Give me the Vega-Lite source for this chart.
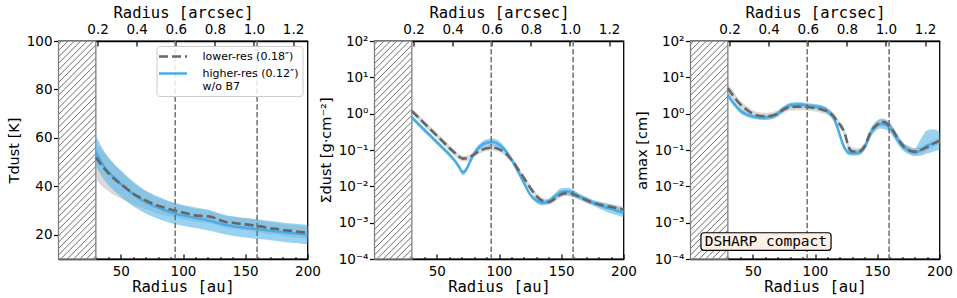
{
"$schema":"https://vega.github.io/schema/vega-lite/v6.json",
"background":"white",
"padding":{"left":5.5,"top":4,"right":0,"bottom":0},
"spacing":67,
"bounds":"flush",
"resolve":{"legend":{"color":"independent","strokeDash":"independent"}},
"datasets":{"prof":[
{"p":"T","r":30,"lv":52,"llo":43,"lhi":58,"hv":54.5,"hlo":48.5,"hhi":61},
{"p":"T","r":35,"lv":48.5,"llo":40,"lhi":55,"hv":49.5,"hlo":44,"hhi":56},
{"p":"T","r":40,"lv":45.5,"llo":38,"lhi":52,"hv":46,"hlo":40.5,"hhi":52},
{"p":"T","r":45,"lv":43,"llo":36.3,"lhi":49,"hv":43.5,"hlo":38,"hhi":49},
{"p":"T","r":50,"lv":41,"llo":35,"lhi":46.5,"hv":41,"hlo":35.7,"hhi":46.5},
{"p":"T","r":55,"lv":39,"llo":33.8,"lhi":44,"hv":38.8,"hlo":33.6,"hhi":44.2},
{"p":"T","r":60,"lv":37,"llo":32.6,"lhi":41.5,"hv":36.8,"hlo":31.8,"hhi":42},
{"p":"T","r":65,"lv":35.5,"llo":31.5,"lhi":39.5,"hv":35,"hlo":30.2,"hhi":40},
{"p":"T","r":70,"lv":34.2,"llo":30.5,"lhi":38,"hv":33.5,"hlo":28.8,"hhi":38.3},
{"p":"T","r":75,"lv":33,"llo":29.6,"lhi":36.5,"hv":32.3,"hlo":27.7,"hhi":36.9},
{"p":"T","r":80,"lv":32,"llo":28.8,"lhi":35.2,"hv":31.2,"hlo":26.6,"hhi":35.8},
{"p":"T","r":85,"lv":31.2,"llo":28.1,"lhi":34.3,"hv":30.2,"hlo":25.7,"hhi":34.7},
{"p":"T","r":90,"lv":30.4,"llo":27.5,"lhi":33.3,"hv":29.3,"hlo":24.9,"hhi":33.7},
{"p":"T","r":95,"lv":29.8,"llo":27,"lhi":32.6,"hv":28.6,"hlo":24.2,"hhi":33},
{"p":"T","r":100,"lv":29.2,"llo":26.4,"lhi":32,"hv":28,"hlo":23.7,"hhi":32.3},
{"p":"T","r":105,"lv":28.6,"llo":25.9,"lhi":31.3,"hv":27.5,"hlo":23.2,"hhi":31.8},
{"p":"T","r":110,"lv":28,"llo":25.3,"lhi":30.7,"hv":27,"hlo":22.8,"hhi":31.3},
{"p":"T","r":115,"lv":27.8,"llo":25.1,"lhi":30.5,"hv":26.5,"hlo":22.3,"hhi":30.8},
{"p":"T","r":120,"lv":27.6,"llo":24.9,"lhi":30.3,"hv":26,"hlo":21.9,"hhi":30.2},
{"p":"T","r":125,"lv":27,"llo":24.4,"lhi":29.6,"hv":25.3,"hlo":21.2,"hhi":29.5},
{"p":"T","r":130,"lv":26,"llo":23.5,"lhi":28.5,"hv":24.6,"hlo":20.6,"hhi":28.7},
{"p":"T","r":135,"lv":25.2,"llo":22.7,"lhi":27.7,"hv":24,"hlo":20,"hhi":28.1},
{"p":"T","r":140,"lv":25,"llo":22.5,"lhi":27.5,"hv":23.6,"hlo":19.6,"hhi":27.6},
{"p":"T","r":145,"lv":24.6,"llo":22.1,"lhi":27.1,"hv":23.2,"hlo":19.2,"hhi":27.2},
{"p":"T","r":150,"lv":24.3,"llo":21.8,"lhi":26.8,"hv":22.9,"hlo":18.9,"hhi":26.9},
{"p":"T","r":155,"lv":24,"llo":21.5,"lhi":26.5,"hv":22.6,"hlo":18.6,"hhi":26.6},
{"p":"T","r":160,"lv":23.6,"llo":21.1,"lhi":26.1,"hv":22.3,"hlo":18.3,"hhi":26.3},
{"p":"T","r":165,"lv":23.2,"llo":20.7,"lhi":25.7,"hv":22,"hlo":18,"hhi":26},
{"p":"T","r":170,"lv":22.6,"llo":20.1,"lhi":25.1,"hv":21.7,"hlo":17.7,"hhi":25.7},
{"p":"T","r":175,"lv":22.5,"llo":20,"lhi":25,"hv":21.4,"hlo":17.4,"hhi":25.4},
{"p":"T","r":180,"lv":22,"llo":19.5,"lhi":24.5,"hv":21.1,"hlo":17.1,"hhi":25.1},
{"p":"T","r":185,"lv":21.7,"llo":19.2,"lhi":24.2,"hv":20.8,"hlo":16.8,"hhi":24.8},
{"p":"T","r":190,"lv":21.4,"llo":18.9,"lhi":23.9,"hv":20.6,"hlo":16.6,"hhi":24.6},
{"p":"T","r":195,"lv":21.1,"llo":18.6,"lhi":23.6,"hv":20.3,"hlo":16.3,"hhi":24.3},
{"p":"T","r":200,"lv":20.8,"llo":18.3,"lhi":23.3,"hv":20,"hlo":16,"hhi":24},
{"p":"S","r":30,"lv":1.18,"llo":0.98,"lhi":1.42,"hv":0.78,"hlo":0.68,"hhi":0.9},
{"p":"S","r":35,"lv":0.8,"llo":0.67,"lhi":0.96,"hv":0.53,"hlo":0.46,"hhi":0.61},
{"p":"S","r":40,"lv":0.54,"llo":0.45,"lhi":0.65,"hv":0.36,"hlo":0.31,"hhi":0.41},
{"p":"S","r":45,"lv":0.37,"llo":0.31,"lhi":0.44,"hv":0.245,"hlo":0.213,"hhi":0.28},
{"p":"S","r":50,"lv":0.25,"llo":0.21,"lhi":0.3,"hv":0.165,"hlo":0.143,"hhi":0.19},
{"p":"S","r":55,"lv":0.17,"llo":0.142,"lhi":0.204,"hv":0.112,"hlo":0.097,"hhi":0.129},
{"p":"S","r":60,"lv":0.115,"llo":0.096,"lhi":0.138,"hv":0.076,"hlo":0.066,"hhi":0.087},
{"p":"S","r":65,"lv":0.08,"llo":0.067,"lhi":0.096,"hv":0.048,"hlo":0.042,"hhi":0.055},
{"p":"S","r":68,"lv":0.065,"llo":0.054,"lhi":0.078,"hv":0.034,"hlo":0.029,"hhi":0.039},
{"p":"S","r":71,"lv":0.058,"llo":0.048,"lhi":0.07,"hv":0.024,"hlo":0.02,"hhi":0.028},
{"p":"S","r":74,"lv":0.059,"llo":0.049,"lhi":0.071,"hv":0.03,"hlo":0.026,"hhi":0.035},
{"p":"S","r":77,"lv":0.065,"llo":0.054,"lhi":0.078,"hv":0.05,"hlo":0.043,"hhi":0.058},
{"p":"S","r":80,"lv":0.076,"llo":0.063,"lhi":0.091,"hv":0.08,"hlo":0.068,"hhi":0.094},
{"p":"S","r":85,"lv":0.097,"llo":0.081,"lhi":0.116,"hv":0.128,"hlo":0.105,"hhi":0.155},
{"p":"S","r":90,"lv":0.112,"llo":0.093,"lhi":0.134,"hv":0.158,"hlo":0.127,"hhi":0.197},
{"p":"S","r":95,"lv":0.116,"llo":0.097,"lhi":0.139,"hv":0.166,"hlo":0.133,"hhi":0.207},
{"p":"S","r":100,"lv":0.106,"llo":0.088,"lhi":0.127,"hv":0.142,"hlo":0.114,"hhi":0.177},
{"p":"S","r":105,"lv":0.082,"llo":0.068,"lhi":0.098,"hv":0.098,"hlo":0.082,"hhi":0.117},
{"p":"S","r":110,"lv":0.054,"llo":0.045,"lhi":0.065,"hv":0.055,"hlo":0.047,"hhi":0.063},
{"p":"S","r":115,"lv":0.031,"llo":0.026,"lhi":0.037,"hv":0.027,"hlo":0.023,"hhi":0.031},
{"p":"S","r":120,"lv":0.017,"llo":0.0142,"lhi":0.0204,"hv":0.0125,"hlo":0.0108,"hhi":0.0144},
{"p":"S","r":125,"lv":0.0092,"llo":0.0077,"lhi":0.011,"hv":0.006,"hlo":0.0052,"hhi":0.0069},
{"p":"S","r":130,"lv":0.0055,"llo":0.0046,"lhi":0.0066,"hv":0.0041,"hlo":0.0035,"hhi":0.0048},
{"p":"S","r":135,"lv":0.004,"llo":0.0033,"lhi":0.0048,"hv":0.0035,"hlo":0.003,"hhi":0.0041},
{"p":"S","r":140,"lv":0.0037,"llo":0.0031,"lhi":0.0044,"hv":0.0039,"hlo":0.0033,"hhi":0.0046},
{"p":"S","r":145,"lv":0.0046,"llo":0.0038,"lhi":0.0055,"hv":0.0053,"hlo":0.0043,"hhi":0.0066},
{"p":"S","r":150,"lv":0.006,"llo":0.005,"lhi":0.0072,"hv":0.007,"hlo":0.0056,"hhi":0.0088},
{"p":"S","r":155,"lv":0.0066,"llo":0.0055,"lhi":0.0079,"hv":0.0073,"hlo":0.0058,"hhi":0.0091},
{"p":"S","r":160,"lv":0.006,"llo":0.005,"lhi":0.0072,"hv":0.0063,"hlo":0.005,"hhi":0.0079},
{"p":"S","r":165,"lv":0.005,"llo":0.0042,"lhi":0.006,"hv":0.0052,"hlo":0.0043,"hhi":0.0062},
{"p":"S","r":170,"lv":0.0042,"llo":0.0035,"lhi":0.005,"hv":0.0043,"hlo":0.0036,"hhi":0.0052},
{"p":"S","r":175,"lv":0.0036,"llo":0.003,"lhi":0.0043,"hv":0.0036,"hlo":0.003,"hhi":0.0043},
{"p":"S","r":180,"lv":0.0032,"llo":0.0027,"lhi":0.0038,"hv":0.0031,"hlo":0.0025,"hhi":0.0038},
{"p":"S","r":185,"lv":0.0029,"llo":0.0024,"lhi":0.0035,"hv":0.0027,"hlo":0.0021,"hhi":0.0035},
{"p":"S","r":190,"lv":0.0027,"llo":0.0022,"lhi":0.0032,"hv":0.0024,"hlo":0.0018,"hhi":0.0032},
{"p":"S","r":195,"lv":0.0025,"llo":0.0021,"lhi":0.003,"hv":0.0021,"hlo":0.0016,"hhi":0.0028},
{"p":"S","r":200,"lv":0.0023,"llo":0.0019,"lhi":0.0028,"hv":0.0019,"hlo":0.0014,"hhi":0.0025},
{"p":"A","r":30,"lv":5.0,"llo":3.6,"lhi":7,"hv":3.3,"hlo":2.7,"hhi":4.0},
{"p":"A","r":33,"lv":3.6,"llo":2.7,"lhi":4.8,"hv":2.3,"hlo":1.95,"hhi":2.7},
{"p":"A","r":36,"lv":2.6,"llo":2.0,"lhi":3.4,"hv":1.7,"hlo":1.45,"hhi":2.0},
{"p":"A","r":40,"lv":1.8,"llo":1.4,"lhi":2.3,"hv":1.2,"hlo":1.03,"hhi":1.4},
{"p":"A","r":45,"lv":1.3,"llo":1.04,"lhi":1.62,"hv":0.95,"hlo":0.82,"hhi":1.1},
{"p":"A","r":50,"lv":1.0,"llo":0.8,"lhi":1.25,"hv":0.83,"hlo":0.72,"hhi":0.96},
{"p":"A","r":55,"lv":0.88,"llo":0.7,"lhi":1.1,"hv":0.79,"hlo":0.68,"hhi":0.91},
{"p":"A","r":60,"lv":0.85,"llo":0.68,"lhi":1.06,"hv":0.78,"hlo":0.67,"hhi":0.9},
{"p":"A","r":65,"lv":0.88,"llo":0.7,"lhi":1.1,"hv":0.82,"hlo":0.7,"hhi":0.95},
{"p":"A","r":70,"lv":1.0,"llo":0.8,"lhi":1.25,"hv":1.0,"hlo":0.85,"hhi":1.17},
{"p":"A","r":75,"lv":1.3,"llo":1.04,"lhi":1.62,"hv":1.4,"hlo":1.2,"hhi":1.63},
{"p":"A","r":80,"lv":1.5,"llo":1.2,"lhi":1.88,"hv":1.7,"hlo":1.45,"hhi":2.0},
{"p":"A","r":85,"lv":1.55,"llo":1.24,"lhi":1.94,"hv":1.78,"hlo":1.5,"hhi":2.1},
{"p":"A","r":90,"lv":1.55,"llo":1.24,"lhi":1.94,"hv":1.75,"hlo":1.48,"hhi":2.06},
{"p":"A","r":95,"lv":1.5,"llo":1.2,"lhi":1.88,"hv":1.65,"hlo":1.4,"hhi":1.95},
{"p":"A","r":100,"lv":1.42,"llo":1.14,"lhi":1.78,"hv":1.58,"hlo":1.35,"hhi":1.85},
{"p":"A","r":105,"lv":1.3,"llo":1.04,"lhi":1.62,"hv":1.48,"hlo":1.26,"hhi":1.74},
{"p":"A","r":110,"lv":1.15,"llo":0.92,"lhi":1.44,"hv":1.2,"hlo":1.0,"hhi":1.42},
{"p":"A","r":115,"lv":0.85,"llo":0.68,"lhi":1.06,"hv":0.75,"hlo":0.63,"hhi":0.9},
{"p":"A","r":118,"lv":0.6,"llo":0.48,"lhi":0.75,"hv":0.42,"hlo":0.35,"hhi":0.5},
{"p":"A","r":121,"lv":0.45,"llo":0.36,"lhi":0.56,"hv":0.2,"hlo":0.17,"hhi":0.24},
{"p":"A","r":124,"lv":0.28,"llo":0.22,"lhi":0.35,"hv":0.11,"hlo":0.092,"hhi":0.13},
{"p":"A","r":127,"lv":0.12,"llo":0.096,"lhi":0.15,"hv":0.085,"hlo":0.072,"hhi":0.1},
{"p":"A","r":130,"lv":0.092,"llo":0.074,"lhi":0.115,"hv":0.082,"hlo":0.07,"hhi":0.097},
{"p":"A","r":135,"lv":0.09,"llo":0.072,"lhi":0.113,"hv":0.085,"hlo":0.072,"hhi":0.1},
{"p":"A","r":140,"lv":0.13,"llo":0.104,"lhi":0.163,"hv":0.12,"hlo":0.1,"hhi":0.15},
{"p":"A","r":145,"lv":0.33,"llo":0.26,"lhi":0.41,"hv":0.3,"hlo":0.23,"hhi":0.4},
{"p":"A","r":150,"lv":0.5,"llo":0.4,"lhi":0.63,"hv":0.48,"hlo":0.36,"hhi":0.65},
{"p":"A","r":153,"lv":0.6,"llo":0.48,"lhi":0.75,"hv":0.52,"hlo":0.39,"hhi":0.7},
{"p":"A","r":156,"lv":0.58,"llo":0.46,"lhi":0.73,"hv":0.5,"hlo":0.37,"hhi":0.68},
{"p":"A","r":160,"lv":0.45,"llo":0.36,"lhi":0.56,"hv":0.42,"hlo":0.31,"hhi":0.57},
{"p":"A","r":163,"lv":0.33,"llo":0.26,"lhi":0.41,"hv":0.3,"hlo":0.22,"hhi":0.4},
{"p":"A","r":166,"lv":0.22,"llo":0.18,"lhi":0.28,"hv":0.2,"hlo":0.15,"hhi":0.27},
{"p":"A","r":170,"lv":0.14,"llo":0.112,"lhi":0.175,"hv":0.13,"hlo":0.1,"hhi":0.17},
{"p":"A","r":175,"lv":0.1,"llo":0.08,"lhi":0.125,"hv":0.1,"hlo":0.078,"hhi":0.13},
{"p":"A","r":180,"lv":0.09,"llo":0.072,"lhi":0.113,"hv":0.085,"hlo":0.068,"hhi":0.11},
{"p":"A","r":185,"lv":0.1,"llo":0.08,"lhi":0.125,"hv":0.1,"hlo":0.07,"hhi":0.2},
{"p":"A","r":190,"lv":0.12,"llo":0.096,"lhi":0.15,"hv":0.13,"hlo":0.08,"hhi":0.35},
{"p":"A","r":195,"lv":0.15,"llo":0.12,"lhi":0.19,"hv":0.15,"hlo":0.09,"hhi":0.37},
{"p":"A","r":200,"lv":0.18,"llo":0.144,"lhi":0.225,"hv":0.17,"hlo":0.1,"hhi":0.32}
]},
"hconcat":[
{
"width":249,"height":218,
"layer":[
{"data":{"values":[{"a":0,"b":30}]},
 "mark":{"type":"rect","stroke":"#808080","strokeWidth":1.3,"fill":{"gradient":"linear","x1":0,"y1":0,"x2":0.1953,"y2":1.138,"stops":[
{"offset":0.0085,"color":"#ffffff"},{"offset":0.0125,"color":"#6e6e6e"},{"offset":0.0165,"color":"#ffffff"},
{"offset":0.0335,"color":"#ffffff"},{"offset":0.0375,"color":"#6e6e6e"},{"offset":0.0415,"color":"#ffffff"},
{"offset":0.0585,"color":"#ffffff"},{"offset":0.0625,"color":"#6e6e6e"},{"offset":0.0665,"color":"#ffffff"},
{"offset":0.0835,"color":"#ffffff"},{"offset":0.0875,"color":"#6e6e6e"},{"offset":0.0915,"color":"#ffffff"},
{"offset":0.1085,"color":"#ffffff"},{"offset":0.1125,"color":"#6e6e6e"},{"offset":0.1165,"color":"#ffffff"},
{"offset":0.1335,"color":"#ffffff"},{"offset":0.1375,"color":"#6e6e6e"},{"offset":0.1415,"color":"#ffffff"},
{"offset":0.1585,"color":"#ffffff"},{"offset":0.1625,"color":"#6e6e6e"},{"offset":0.1665,"color":"#ffffff"},
{"offset":0.1835,"color":"#ffffff"},{"offset":0.1875,"color":"#6e6e6e"},{"offset":0.1915,"color":"#ffffff"},
{"offset":0.2085,"color":"#ffffff"},{"offset":0.2125,"color":"#6e6e6e"},{"offset":0.2165,"color":"#ffffff"},
{"offset":0.2335,"color":"#ffffff"},{"offset":0.2375,"color":"#6e6e6e"},{"offset":0.2415,"color":"#ffffff"},
{"offset":0.2585,"color":"#ffffff"},{"offset":0.2625,"color":"#6e6e6e"},{"offset":0.2665,"color":"#ffffff"},
{"offset":0.2835,"color":"#ffffff"},{"offset":0.2875,"color":"#6e6e6e"},{"offset":0.2915,"color":"#ffffff"},
{"offset":0.3085,"color":"#ffffff"},{"offset":0.3125,"color":"#6e6e6e"},{"offset":0.3165,"color":"#ffffff"},
{"offset":0.3335,"color":"#ffffff"},{"offset":0.3375,"color":"#6e6e6e"},{"offset":0.3415,"color":"#ffffff"},
{"offset":0.3585,"color":"#ffffff"},{"offset":0.3625,"color":"#6e6e6e"},{"offset":0.3665,"color":"#ffffff"},
{"offset":0.3835,"color":"#ffffff"},{"offset":0.3875,"color":"#6e6e6e"},{"offset":0.3915,"color":"#ffffff"},
{"offset":0.4085,"color":"#ffffff"},{"offset":0.4125,"color":"#6e6e6e"},{"offset":0.4165,"color":"#ffffff"},
{"offset":0.4335,"color":"#ffffff"},{"offset":0.4375,"color":"#6e6e6e"},{"offset":0.4415,"color":"#ffffff"},
{"offset":0.4585,"color":"#ffffff"},{"offset":0.4625,"color":"#6e6e6e"},{"offset":0.4665,"color":"#ffffff"},
{"offset":0.4835,"color":"#ffffff"},{"offset":0.4875,"color":"#6e6e6e"},{"offset":0.4915,"color":"#ffffff"},
{"offset":0.5085,"color":"#ffffff"},{"offset":0.5125,"color":"#6e6e6e"},{"offset":0.5165,"color":"#ffffff"},
{"offset":0.5335,"color":"#ffffff"},{"offset":0.5375,"color":"#6e6e6e"},{"offset":0.5415,"color":"#ffffff"},
{"offset":0.5585,"color":"#ffffff"},{"offset":0.5625,"color":"#6e6e6e"},{"offset":0.5665,"color":"#ffffff"},
{"offset":0.5835,"color":"#ffffff"},{"offset":0.5875,"color":"#6e6e6e"},{"offset":0.5915,"color":"#ffffff"},
{"offset":0.6085,"color":"#ffffff"},{"offset":0.6125,"color":"#6e6e6e"},{"offset":0.6165,"color":"#ffffff"},
{"offset":0.6335,"color":"#ffffff"},{"offset":0.6375,"color":"#6e6e6e"},{"offset":0.6415,"color":"#ffffff"},
{"offset":0.6585,"color":"#ffffff"},{"offset":0.6625,"color":"#6e6e6e"},{"offset":0.6665,"color":"#ffffff"},
{"offset":0.6835,"color":"#ffffff"},{"offset":0.6875,"color":"#6e6e6e"},{"offset":0.6915,"color":"#ffffff"},
{"offset":0.7085,"color":"#ffffff"},{"offset":0.7125,"color":"#6e6e6e"},{"offset":0.7165,"color":"#ffffff"},
{"offset":0.7335,"color":"#ffffff"},{"offset":0.7375,"color":"#6e6e6e"},{"offset":0.7415,"color":"#ffffff"},
{"offset":0.7585,"color":"#ffffff"},{"offset":0.7625,"color":"#6e6e6e"},{"offset":0.7665,"color":"#ffffff"},
{"offset":0.7835,"color":"#ffffff"},{"offset":0.7875,"color":"#6e6e6e"},{"offset":0.7915,"color":"#ffffff"},
{"offset":0.8085,"color":"#ffffff"},{"offset":0.8125,"color":"#6e6e6e"},{"offset":0.8165,"color":"#ffffff"},
{"offset":0.8335,"color":"#ffffff"},{"offset":0.8375,"color":"#6e6e6e"},{"offset":0.8415,"color":"#ffffff"},
{"offset":0.8585,"color":"#ffffff"},{"offset":0.8625,"color":"#6e6e6e"},{"offset":0.8665,"color":"#ffffff"},
{"offset":0.8835,"color":"#ffffff"},{"offset":0.8875,"color":"#6e6e6e"},{"offset":0.8915,"color":"#ffffff"},
{"offset":0.9085,"color":"#ffffff"},{"offset":0.9125,"color":"#6e6e6e"},{"offset":0.9165,"color":"#ffffff"},
{"offset":0.9335,"color":"#ffffff"},{"offset":0.9375,"color":"#6e6e6e"},{"offset":0.9415,"color":"#ffffff"},
{"offset":0.9585,"color":"#ffffff"},{"offset":0.9625,"color":"#6e6e6e"},{"offset":0.9665,"color":"#ffffff"},
{"offset":0.9835,"color":"#ffffff"},{"offset":0.9875,"color":"#6e6e6e"},{"offset":0.9915,"color":"#ffffff"}]}},
 "encoding":{
  "x":{"field":"a","type":"quantitative","scale":{"domain":[0,200],"nice":false,"zero":false},"axis":{"orient":"bottom","values":[10,20,30,40,60,70,80,90,110,120,130,140,160,170,180,190],"labels":false,"tickSize":-2.5,"tickWidth":1,"domain":false,"title":null}},
  "x2":{"field":"b"},
  "y":{"datum":10,"type":"quantitative","scale":{"domain":[10,100],"nice":false,"zero":false},"axis":{"orient":"left","values":[10,15,25,30,35,45,50,55,65,70,75,85,90,95],"labels":false,"tickSize":-2.5,"tickWidth":1,"domain":false,"title":null}},
  "y2":{"datum":100}}},
{"data":{"name":"prof"},
 "transform":[{"filter":"datum.p == 'T'"}],
 "encoding":{"x":{"field":"r","type":"quantitative","scale":{"domain":[0,200],"nice":false,"zero":false},"axis":{"orient":"bottom","values":[50,100,150,200],"tickSize":-5,"tickWidth":1.2,"labelPadding":10,"labelFlush":false,"title":"Radius [au]","titleFont":"DejaVu Sans Mono","titleFontSize":15.5,"titlePadding":2,"domain":true,"domainWidth":1.3}}},
 "layer":[
  {"mark":{"type":"area","color":"#aaaaaa","opacity":0.45,"interpolate":"monotone"},
   "encoding":{"y":{"field":"llo","type":"quantitative","scale":{"domain":[10,100],"nice":false,"zero":false},"axis":{"orient":"left","values":[20,40,60,80,100],"tickSize":5,"tickWidth":1.2,"labelPadding":1.5,"title":"Tdust [K]","titleFontSize":14.5,"titlePadding":5,"domain":true,"domainWidth":1.3}},"y2":{"field":"lhi"}}},
  {"mark":{"type":"area","color":"#56B4E9","opacity":0.6,"interpolate":"monotone"},
   "encoding":{"y":{"field":"hlo","type":"quantitative"},"y2":{"field":"hhi"}}},
  {"mark":{"type":"line","strokeWidth":2.5,"interpolate":"monotone"},
   "encoding":{"y":{"field":"hv","type":"quantitative"},
    "color":{"datum":"higher-res (0.12″) w/o B7","type":"nominal","scale":{"domain":["lower-res (0.18″)","higher-res (0.12″) w/o B7"],"range":["#666666","#49ACE6"]},
      "legend":{"title":null,"orient":"top-right","offset":5,"symbolType":"M-2.8,0H2.8","symbolSize":100,"symbolOffset":6,"symbolStrokeWidth":2.6,"labelFont":"DejaVu Sans","labelFontSize":11,"labelColor":"black","labelOffset":23,"labelLimit":300,"labelExpr":"datum.label == 'lower-res (0.18″)' ? datum.label : ['higher-res (0.12″)', 'w/o B7']","fillColor":"rgba(255,255,255,0.85)","strokeColor":"#cccccc","cornerRadius":3,"padding":4,"rowPadding":5}},
    "strokeDash":{"datum":"higher-res (0.12″) w/o B7","type":"nominal","scale":{"domain":["lower-res (0.18″)","higher-res (0.12″) w/o B7"],"range":[[9,4],[1,0]]},
      "legend":{"title":null,"orient":"top-right","offset":5,"symbolType":"M-2.8,0H2.8","symbolSize":100,"symbolOffset":6,"symbolStrokeWidth":2.6,"labelFont":"DejaVu Sans","labelFontSize":11,"labelColor":"black","labelOffset":23,"labelLimit":300,"labelExpr":"datum.label == 'lower-res (0.18″)' ? datum.label : ['higher-res (0.12″)', 'w/o B7']","fillColor":"rgba(255,255,255,0.85)","strokeColor":"#cccccc","cornerRadius":3,"padding":4,"rowPadding":5}}}},
  {"mark":{"type":"line","strokeWidth":2.6,"interpolate":"monotone"},
   "encoding":{"y":{"field":"lv","type":"quantitative"},"color":{"datum":"lower-res (0.18″)","type":"nominal"},"strokeDash":{"datum":"lower-res (0.18″)","type":"nominal"}}}
 ]},
{"data":{"values":[{"as":0.597},{"as":1.016}]},
 "mark":{"type":"rule","color":"#707070","strokeWidth":1.5,"strokeDash":[5.5,2.4]},
 "encoding":{"x":{"field":"as","type":"quantitative","scale":{"domain":[0,1.2739],"nice":false,"zero":false},"axis":{"orient":"top","values":[0.2,0.4,0.6,0.8,1.0,1.2],"format":".1f","tickSize":-5,"tickWidth":1.2,"labelPadding":10,"labelFlush":false,"title":"Radius [arcsec]","titleFont":"DejaVu Sans Mono","titleFontSize":15.5,"titlePadding":2,"domain":true,"domainWidth":1.3}}}}
],
"resolve":{"scale":{"x":"independent","y":"independent"}}
},
{
"width":249,"height":218,
"layer":[
{"data":{"values":[{"a":0,"b":30}]},
 "mark":{"type":"rect","stroke":"#808080","strokeWidth":1.3,"fill":{"gradient":"linear","x1":0,"y1":0,"x2":0.1953,"y2":1.138,"stops":[
{"offset":0.0085,"color":"#ffffff"},{"offset":0.0125,"color":"#6e6e6e"},{"offset":0.0165,"color":"#ffffff"},
{"offset":0.0335,"color":"#ffffff"},{"offset":0.0375,"color":"#6e6e6e"},{"offset":0.0415,"color":"#ffffff"},
{"offset":0.0585,"color":"#ffffff"},{"offset":0.0625,"color":"#6e6e6e"},{"offset":0.0665,"color":"#ffffff"},
{"offset":0.0835,"color":"#ffffff"},{"offset":0.0875,"color":"#6e6e6e"},{"offset":0.0915,"color":"#ffffff"},
{"offset":0.1085,"color":"#ffffff"},{"offset":0.1125,"color":"#6e6e6e"},{"offset":0.1165,"color":"#ffffff"},
{"offset":0.1335,"color":"#ffffff"},{"offset":0.1375,"color":"#6e6e6e"},{"offset":0.1415,"color":"#ffffff"},
{"offset":0.1585,"color":"#ffffff"},{"offset":0.1625,"color":"#6e6e6e"},{"offset":0.1665,"color":"#ffffff"},
{"offset":0.1835,"color":"#ffffff"},{"offset":0.1875,"color":"#6e6e6e"},{"offset":0.1915,"color":"#ffffff"},
{"offset":0.2085,"color":"#ffffff"},{"offset":0.2125,"color":"#6e6e6e"},{"offset":0.2165,"color":"#ffffff"},
{"offset":0.2335,"color":"#ffffff"},{"offset":0.2375,"color":"#6e6e6e"},{"offset":0.2415,"color":"#ffffff"},
{"offset":0.2585,"color":"#ffffff"},{"offset":0.2625,"color":"#6e6e6e"},{"offset":0.2665,"color":"#ffffff"},
{"offset":0.2835,"color":"#ffffff"},{"offset":0.2875,"color":"#6e6e6e"},{"offset":0.2915,"color":"#ffffff"},
{"offset":0.3085,"color":"#ffffff"},{"offset":0.3125,"color":"#6e6e6e"},{"offset":0.3165,"color":"#ffffff"},
{"offset":0.3335,"color":"#ffffff"},{"offset":0.3375,"color":"#6e6e6e"},{"offset":0.3415,"color":"#ffffff"},
{"offset":0.3585,"color":"#ffffff"},{"offset":0.3625,"color":"#6e6e6e"},{"offset":0.3665,"color":"#ffffff"},
{"offset":0.3835,"color":"#ffffff"},{"offset":0.3875,"color":"#6e6e6e"},{"offset":0.3915,"color":"#ffffff"},
{"offset":0.4085,"color":"#ffffff"},{"offset":0.4125,"color":"#6e6e6e"},{"offset":0.4165,"color":"#ffffff"},
{"offset":0.4335,"color":"#ffffff"},{"offset":0.4375,"color":"#6e6e6e"},{"offset":0.4415,"color":"#ffffff"},
{"offset":0.4585,"color":"#ffffff"},{"offset":0.4625,"color":"#6e6e6e"},{"offset":0.4665,"color":"#ffffff"},
{"offset":0.4835,"color":"#ffffff"},{"offset":0.4875,"color":"#6e6e6e"},{"offset":0.4915,"color":"#ffffff"},
{"offset":0.5085,"color":"#ffffff"},{"offset":0.5125,"color":"#6e6e6e"},{"offset":0.5165,"color":"#ffffff"},
{"offset":0.5335,"color":"#ffffff"},{"offset":0.5375,"color":"#6e6e6e"},{"offset":0.5415,"color":"#ffffff"},
{"offset":0.5585,"color":"#ffffff"},{"offset":0.5625,"color":"#6e6e6e"},{"offset":0.5665,"color":"#ffffff"},
{"offset":0.5835,"color":"#ffffff"},{"offset":0.5875,"color":"#6e6e6e"},{"offset":0.5915,"color":"#ffffff"},
{"offset":0.6085,"color":"#ffffff"},{"offset":0.6125,"color":"#6e6e6e"},{"offset":0.6165,"color":"#ffffff"},
{"offset":0.6335,"color":"#ffffff"},{"offset":0.6375,"color":"#6e6e6e"},{"offset":0.6415,"color":"#ffffff"},
{"offset":0.6585,"color":"#ffffff"},{"offset":0.6625,"color":"#6e6e6e"},{"offset":0.6665,"color":"#ffffff"},
{"offset":0.6835,"color":"#ffffff"},{"offset":0.6875,"color":"#6e6e6e"},{"offset":0.6915,"color":"#ffffff"},
{"offset":0.7085,"color":"#ffffff"},{"offset":0.7125,"color":"#6e6e6e"},{"offset":0.7165,"color":"#ffffff"},
{"offset":0.7335,"color":"#ffffff"},{"offset":0.7375,"color":"#6e6e6e"},{"offset":0.7415,"color":"#ffffff"},
{"offset":0.7585,"color":"#ffffff"},{"offset":0.7625,"color":"#6e6e6e"},{"offset":0.7665,"color":"#ffffff"},
{"offset":0.7835,"color":"#ffffff"},{"offset":0.7875,"color":"#6e6e6e"},{"offset":0.7915,"color":"#ffffff"},
{"offset":0.8085,"color":"#ffffff"},{"offset":0.8125,"color":"#6e6e6e"},{"offset":0.8165,"color":"#ffffff"},
{"offset":0.8335,"color":"#ffffff"},{"offset":0.8375,"color":"#6e6e6e"},{"offset":0.8415,"color":"#ffffff"},
{"offset":0.8585,"color":"#ffffff"},{"offset":0.8625,"color":"#6e6e6e"},{"offset":0.8665,"color":"#ffffff"},
{"offset":0.8835,"color":"#ffffff"},{"offset":0.8875,"color":"#6e6e6e"},{"offset":0.8915,"color":"#ffffff"},
{"offset":0.9085,"color":"#ffffff"},{"offset":0.9125,"color":"#6e6e6e"},{"offset":0.9165,"color":"#ffffff"},
{"offset":0.9335,"color":"#ffffff"},{"offset":0.9375,"color":"#6e6e6e"},{"offset":0.9415,"color":"#ffffff"},
{"offset":0.9585,"color":"#ffffff"},{"offset":0.9625,"color":"#6e6e6e"},{"offset":0.9665,"color":"#ffffff"},
{"offset":0.9835,"color":"#ffffff"},{"offset":0.9875,"color":"#6e6e6e"},{"offset":0.9915,"color":"#ffffff"}]}},
 "encoding":{
  "x":{"field":"a","type":"quantitative","scale":{"domain":[0,200],"nice":false,"zero":false},"axis":{"orient":"bottom","values":[10,20,30,40,60,70,80,90,110,120,130,140,160,170,180,190],"labels":false,"tickSize":-2.5,"tickWidth":1,"domain":false,"title":null}},
  "x2":{"field":"b"},
  "y":{"datum":0.0001,"type":"quantitative","scale":{"type":"log","domain":[0.0001,100],"nice":false},"axis":{"orient":"left","values":[0.0002,0.0003,0.0004,0.0005,0.0006,0.0007,0.0008,0.0009,0.002,0.003,0.004,0.005,0.006,0.007,0.008,0.009,0.02,0.03,0.04,0.05,0.06,0.07,0.08,0.09,0.2,0.3,0.4,0.5,0.6,0.7,0.8,0.9,2,3,4,5,6,7,8,9,20,30,40,50,60,70,80,90],"labels":false,"tickSize":-2.5,"tickWidth":1,"domain":false,"title":null}},
  "y2":{"datum":100}}},
{"data":{"name":"prof"},
 "transform":[{"filter":"datum.p == 'S'"}],
 "encoding":{"x":{"field":"r","type":"quantitative","scale":{"domain":[0,200],"nice":false,"zero":false},"axis":{"orient":"bottom","values":[50,100,150,200],"tickSize":-5,"tickWidth":1.2,"labelPadding":10,"labelFlush":false,"title":"Radius [au]","titleFont":"DejaVu Sans Mono","titleFontSize":15.5,"titlePadding":2,"domain":true,"domainWidth":1.3}}},
 "layer":[
  {"mark":{"type":"area","color":"#aaaaaa","opacity":0.45,"interpolate":"monotone"},
   "encoding":{"y":{"field":"llo","type":"quantitative","scale":{"type":"log","domain":[0.0001,100],"nice":false},"axis":{"orient":"left","values":[0.0001,0.001,0.01,0.1,1,10,100],"labelExpr":"['10⁻⁴','10⁻³','10⁻²','10⁻¹','10⁰','10¹','10²'][round(log(datum.value)/LN10)+4]","tickSize":5,"tickWidth":1.2,"labelPadding":1.5,"title":"Σdust [g·cm⁻²]","titleFontSize":14.5,"titlePadding":5,"domain":true,"domainWidth":1.3}},"y2":{"field":"lhi"}}},
  {"mark":{"type":"area","color":"#56B4E9","opacity":0.6,"interpolate":"monotone"},
   "encoding":{"y":{"field":"hlo","type":"quantitative"},"y2":{"field":"hhi"}}},
  {"mark":{"type":"line","strokeWidth":2.5,"color":"#49ACE6","interpolate":"monotone"},
   "encoding":{"y":{"field":"hv","type":"quantitative"}}},
  {"mark":{"type":"line","strokeWidth":2.6,"color":"#666666","strokeDash":[9,4],"interpolate":"monotone"},
   "encoding":{"y":{"field":"lv","type":"quantitative"}}}
 ]},
{"data":{"values":[{"as":0.597},{"as":1.016}]},
 "mark":{"type":"rule","color":"#707070","strokeWidth":1.5,"strokeDash":[5.5,2.4]},
 "encoding":{"x":{"field":"as","type":"quantitative","scale":{"domain":[0,1.2739],"nice":false,"zero":false},"axis":{"orient":"top","values":[0.2,0.4,0.6,0.8,1.0,1.2],"format":".1f","tickSize":-5,"tickWidth":1.2,"labelPadding":10,"labelFlush":false,"title":"Radius [arcsec]","titleFont":"DejaVu Sans Mono","titleFontSize":15.5,"titlePadding":2,"domain":true,"domainWidth":1.3}}}}
],
"resolve":{"scale":{"x":"independent","y":"independent"}}
},
{
"width":249,"height":218,
"layer":[
{"data":{"values":[{"a":0,"b":30}]},
 "mark":{"type":"rect","stroke":"#808080","strokeWidth":1.3,"fill":{"gradient":"linear","x1":0,"y1":0,"x2":0.1953,"y2":1.138,"stops":[
{"offset":0.0085,"color":"#ffffff"},{"offset":0.0125,"color":"#6e6e6e"},{"offset":0.0165,"color":"#ffffff"},
{"offset":0.0335,"color":"#ffffff"},{"offset":0.0375,"color":"#6e6e6e"},{"offset":0.0415,"color":"#ffffff"},
{"offset":0.0585,"color":"#ffffff"},{"offset":0.0625,"color":"#6e6e6e"},{"offset":0.0665,"color":"#ffffff"},
{"offset":0.0835,"color":"#ffffff"},{"offset":0.0875,"color":"#6e6e6e"},{"offset":0.0915,"color":"#ffffff"},
{"offset":0.1085,"color":"#ffffff"},{"offset":0.1125,"color":"#6e6e6e"},{"offset":0.1165,"color":"#ffffff"},
{"offset":0.1335,"color":"#ffffff"},{"offset":0.1375,"color":"#6e6e6e"},{"offset":0.1415,"color":"#ffffff"},
{"offset":0.1585,"color":"#ffffff"},{"offset":0.1625,"color":"#6e6e6e"},{"offset":0.1665,"color":"#ffffff"},
{"offset":0.1835,"color":"#ffffff"},{"offset":0.1875,"color":"#6e6e6e"},{"offset":0.1915,"color":"#ffffff"},
{"offset":0.2085,"color":"#ffffff"},{"offset":0.2125,"color":"#6e6e6e"},{"offset":0.2165,"color":"#ffffff"},
{"offset":0.2335,"color":"#ffffff"},{"offset":0.2375,"color":"#6e6e6e"},{"offset":0.2415,"color":"#ffffff"},
{"offset":0.2585,"color":"#ffffff"},{"offset":0.2625,"color":"#6e6e6e"},{"offset":0.2665,"color":"#ffffff"},
{"offset":0.2835,"color":"#ffffff"},{"offset":0.2875,"color":"#6e6e6e"},{"offset":0.2915,"color":"#ffffff"},
{"offset":0.3085,"color":"#ffffff"},{"offset":0.3125,"color":"#6e6e6e"},{"offset":0.3165,"color":"#ffffff"},
{"offset":0.3335,"color":"#ffffff"},{"offset":0.3375,"color":"#6e6e6e"},{"offset":0.3415,"color":"#ffffff"},
{"offset":0.3585,"color":"#ffffff"},{"offset":0.3625,"color":"#6e6e6e"},{"offset":0.3665,"color":"#ffffff"},
{"offset":0.3835,"color":"#ffffff"},{"offset":0.3875,"color":"#6e6e6e"},{"offset":0.3915,"color":"#ffffff"},
{"offset":0.4085,"color":"#ffffff"},{"offset":0.4125,"color":"#6e6e6e"},{"offset":0.4165,"color":"#ffffff"},
{"offset":0.4335,"color":"#ffffff"},{"offset":0.4375,"color":"#6e6e6e"},{"offset":0.4415,"color":"#ffffff"},
{"offset":0.4585,"color":"#ffffff"},{"offset":0.4625,"color":"#6e6e6e"},{"offset":0.4665,"color":"#ffffff"},
{"offset":0.4835,"color":"#ffffff"},{"offset":0.4875,"color":"#6e6e6e"},{"offset":0.4915,"color":"#ffffff"},
{"offset":0.5085,"color":"#ffffff"},{"offset":0.5125,"color":"#6e6e6e"},{"offset":0.5165,"color":"#ffffff"},
{"offset":0.5335,"color":"#ffffff"},{"offset":0.5375,"color":"#6e6e6e"},{"offset":0.5415,"color":"#ffffff"},
{"offset":0.5585,"color":"#ffffff"},{"offset":0.5625,"color":"#6e6e6e"},{"offset":0.5665,"color":"#ffffff"},
{"offset":0.5835,"color":"#ffffff"},{"offset":0.5875,"color":"#6e6e6e"},{"offset":0.5915,"color":"#ffffff"},
{"offset":0.6085,"color":"#ffffff"},{"offset":0.6125,"color":"#6e6e6e"},{"offset":0.6165,"color":"#ffffff"},
{"offset":0.6335,"color":"#ffffff"},{"offset":0.6375,"color":"#6e6e6e"},{"offset":0.6415,"color":"#ffffff"},
{"offset":0.6585,"color":"#ffffff"},{"offset":0.6625,"color":"#6e6e6e"},{"offset":0.6665,"color":"#ffffff"},
{"offset":0.6835,"color":"#ffffff"},{"offset":0.6875,"color":"#6e6e6e"},{"offset":0.6915,"color":"#ffffff"},
{"offset":0.7085,"color":"#ffffff"},{"offset":0.7125,"color":"#6e6e6e"},{"offset":0.7165,"color":"#ffffff"},
{"offset":0.7335,"color":"#ffffff"},{"offset":0.7375,"color":"#6e6e6e"},{"offset":0.7415,"color":"#ffffff"},
{"offset":0.7585,"color":"#ffffff"},{"offset":0.7625,"color":"#6e6e6e"},{"offset":0.7665,"color":"#ffffff"},
{"offset":0.7835,"color":"#ffffff"},{"offset":0.7875,"color":"#6e6e6e"},{"offset":0.7915,"color":"#ffffff"},
{"offset":0.8085,"color":"#ffffff"},{"offset":0.8125,"color":"#6e6e6e"},{"offset":0.8165,"color":"#ffffff"},
{"offset":0.8335,"color":"#ffffff"},{"offset":0.8375,"color":"#6e6e6e"},{"offset":0.8415,"color":"#ffffff"},
{"offset":0.8585,"color":"#ffffff"},{"offset":0.8625,"color":"#6e6e6e"},{"offset":0.8665,"color":"#ffffff"},
{"offset":0.8835,"color":"#ffffff"},{"offset":0.8875,"color":"#6e6e6e"},{"offset":0.8915,"color":"#ffffff"},
{"offset":0.9085,"color":"#ffffff"},{"offset":0.9125,"color":"#6e6e6e"},{"offset":0.9165,"color":"#ffffff"},
{"offset":0.9335,"color":"#ffffff"},{"offset":0.9375,"color":"#6e6e6e"},{"offset":0.9415,"color":"#ffffff"},
{"offset":0.9585,"color":"#ffffff"},{"offset":0.9625,"color":"#6e6e6e"},{"offset":0.9665,"color":"#ffffff"},
{"offset":0.9835,"color":"#ffffff"},{"offset":0.9875,"color":"#6e6e6e"},{"offset":0.9915,"color":"#ffffff"}]}},
 "encoding":{
  "x":{"field":"a","type":"quantitative","scale":{"domain":[0,200],"nice":false,"zero":false},"axis":{"orient":"bottom","values":[10,20,30,40,60,70,80,90,110,120,130,140,160,170,180,190],"labels":false,"tickSize":-2.5,"tickWidth":1,"domain":false,"title":null}},
  "x2":{"field":"b"},
  "y":{"datum":0.0001,"type":"quantitative","scale":{"type":"log","domain":[0.0001,100],"nice":false},"axis":{"orient":"left","values":[0.0002,0.0003,0.0004,0.0005,0.0006,0.0007,0.0008,0.0009,0.002,0.003,0.004,0.005,0.006,0.007,0.008,0.009,0.02,0.03,0.04,0.05,0.06,0.07,0.08,0.09,0.2,0.3,0.4,0.5,0.6,0.7,0.8,0.9,2,3,4,5,6,7,8,9,20,30,40,50,60,70,80,90],"labels":false,"tickSize":-2.5,"tickWidth":1,"domain":false,"title":null}},
  "y2":{"datum":100}}},
{"data":{"name":"prof"},
 "transform":[{"filter":"datum.p == 'A'"}],
 "encoding":{"x":{"field":"r","type":"quantitative","scale":{"domain":[0,200],"nice":false,"zero":false},"axis":{"orient":"bottom","values":[50,100,150,200],"tickSize":-5,"tickWidth":1.2,"labelPadding":10,"labelFlush":false,"title":"Radius [au]","titleFont":"DejaVu Sans Mono","titleFontSize":15.5,"titlePadding":2,"domain":true,"domainWidth":1.3}}},
 "layer":[
  {"mark":{"type":"area","color":"#aaaaaa","opacity":0.45,"interpolate":"monotone"},
   "encoding":{"y":{"field":"llo","type":"quantitative","scale":{"type":"log","domain":[0.0001,100],"nice":false},"axis":{"orient":"left","values":[0.0001,0.001,0.01,0.1,1,10,100],"labelExpr":"['10⁻⁴','10⁻³','10⁻²','10⁻¹','10⁰','10¹','10²'][round(log(datum.value)/LN10)+4]","tickSize":5,"tickWidth":1.2,"labelPadding":1.5,"title":"amax [cm]","titleFontSize":14.5,"titlePadding":5,"domain":true,"domainWidth":1.3}},"y2":{"field":"lhi"}}},
  {"mark":{"type":"area","color":"#56B4E9","opacity":0.6,"interpolate":"monotone"},
   "encoding":{"y":{"field":"hlo","type":"quantitative"},"y2":{"field":"hhi"}}},
  {"mark":{"type":"line","strokeWidth":2.5,"color":"#49ACE6","interpolate":"monotone"},
   "encoding":{"y":{"field":"hv","type":"quantitative"}}},
  {"mark":{"type":"line","strokeWidth":2.6,"color":"#666666","strokeDash":[9,4],"interpolate":"monotone"},
   "encoding":{"y":{"field":"lv","type":"quantitative"}}}
 ]},
{"data":{"values":[{"as":0.597},{"as":1.016}]},
 "mark":{"type":"rule","color":"#707070","strokeWidth":1.5,"strokeDash":[5.5,2.4]},
 "encoding":{"x":{"field":"as","type":"quantitative","scale":{"domain":[0,1.2739],"nice":false,"zero":false},"axis":{"orient":"top","values":[0.2,0.4,0.6,0.8,1.0,1.2],"format":".1f","tickSize":-5,"tickWidth":1.2,"labelPadding":10,"labelFlush":false,"title":"Radius [arcsec]","titleFont":"DejaVu Sans Mono","titleFontSize":15.5,"titlePadding":2,"domain":true,"domainWidth":1.3}}}},
{"data":{"values":[{"t":"DSHARP compact"}]},
 "layer":[
  {"mark":{"type":"rect","fill":"#FCF1E4","stroke":"black","strokeWidth":1.2,"cornerRadius":3},
   "encoding":{"x":{"datum":8.4,"type":"quantitative","scale":{"domain":[0,200],"nice":false,"zero":false},"axis":null},"x2":{"datum":112.9},"y":{"datum":0.000528,"type":"quantitative","scale":{"type":"log","domain":[0.0001,100],"nice":false},"axis":null},"y2":{"datum":0.000173}}},
  {"mark":{"type":"text","font":"DejaVu Sans Mono","fontSize":14.5,"color":"black","align":"center","baseline":"middle"},
   "encoding":{"x":{"datum":60.6,"type":"quantitative","axis":null},"y":{"datum":0.000299,"type":"quantitative","axis":null},"text":{"field":"t"}}}
 ]}
],
"resolve":{"scale":{"x":"independent","y":"independent"}}
}
],
"config":{
 "font":"DejaVu Sans",
 "view":{"stroke":"black","strokeWidth":1.3},
 "style":{"guide-label":{"lineHeight":13}},
 "axis":{"labelFont":"DejaVu Sans","labelFontSize":13.5,"labelColor":"black","tickColor":"black","domainColor":"black","titleColor":"black","titleFont":"DejaVu Sans","titleFontWeight":"normal","grid":false,"zindex":1,"labelOverlap":false}
}
}
